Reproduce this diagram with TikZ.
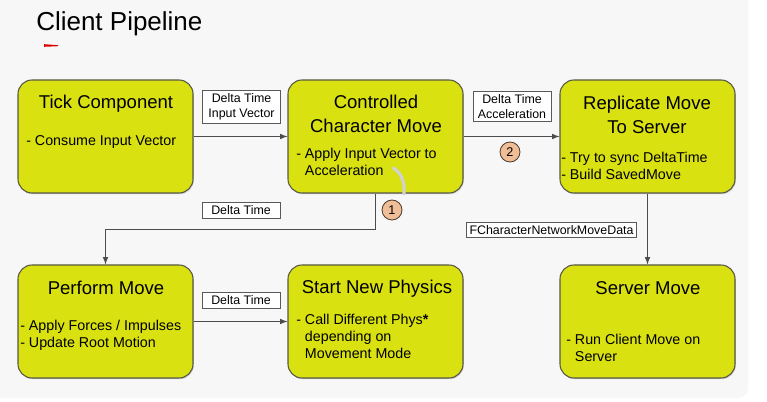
\documentclass[tikz,border=0pt]{standalone}
\usepackage{fontspec}
\setmainfont{Liberation Sans}
\usetikzlibrary{shadows}
\definecolor{boxfill}{RGB}{218,225,16}
\definecolor{boxline}{RGB}{88,88,70}
\definecolor{badge}{RGB}{240,190,150}
\begin{document}
\begin{tikzpicture}
[x=0.75pt, y=-0.75pt,
 stage/.style={draw=boxline, fill=boxfill, line width=0.8pt, rounded corners=10.5pt,
   minimum width=131.25pt, minimum height=84.75pt, inner sep=0pt,
   drop shadow={shadow xshift=0.6pt, shadow yshift=-0.9pt, opacity=.35}},
 head/.style={font=\fontsize{13.9}{17.5}\selectfont, align=center, inner sep=0pt},
 body/.style={font=\fontsize{10.7}{12.8}\selectfont, align=left, anchor=west, inner sep=0pt},
 tag/.style={draw=black!65, fill=white, line width=0.6pt, font=\fontsize{9.3}{11.2}\selectfont,
   align=center, inner sep=2.5pt, minimum width=58.5pt},
 badgenode/.style={circle, draw=black!70!badge, fill=badge, line width=0.6pt,
   minimum size=15pt, inner sep=0pt, font=\fontsize{9.5}{9.5}\selectfont},
 arr/.style={draw=black!70, line width=0.9pt, -latex}]

\useasboundingbox (0,0) rectangle (767,402);
\fill[white] (0,0) rectangle (767,402);
\fill[black!3, rounded corners=7.5pt] (-10,-10) rectangle (748,398);
%________________________________________________%
\node[anchor=west, inner sep=0pt, font=\fontsize{19.5}{22}\selectfont] (title) at (36,24) {Client Pipeline};
\fill[red!85!black] (44,44.2) -- (58,45.2) -- (58,46.2) -- (44,46.8) -- cycle;
%________________________________________________%
\node[stage] (tick) at (105.5,136.5) {};
\node[stage] (ccm) at (375.5,136.5) {};
\node[stage] (repl) at (647.5,136.5) {};
\node[stage] (perf) at (105.5,321.5) {};
\node[stage] (phys) at (375.5,321.5) {};
\node[stage] (serv) at (647.5,321.5) {};
%________________________________________________%
\node[head] (tickhead) at (106,104) {Tick Component};
\node[body] (tickbody) at (26,142) {- Consume Input Vector};
%________________________________________________%
\node[head] (ccmhead) at (376,114) {Controlled\\Character Move};
\node[body] (ccmbody) at (296,161.5) {- Apply Input Vector to\\\phantom{- }Acceleration};
%________________________________________________%
\node[head] (replhead) at (647,115) {Replicate Move\\To Server};
\node[body] (replbody) at (561,166) {- Try to sync DeltaTime\\- Build SavedMove};
%________________________________________________%
\node[head] (perfhead) at (106,288) {Perform Move};
\node[body] (perfbody) at (20,335.5) {- Apply Forces / Impulses\\- Update Root Motion};
%________________________________________________%
\node[head] (physhead) at (377,289) {Start New Physics};
\node[body] (physbody) at (296,336) {- Call Different Phys\textbf{*}\\\phantom{- }depending on\\\phantom{- }Movement Mode};
%________________________________________________%
\node[head] (servhead) at (648,288) {Server Move};
\node[body] (servbody) at (566,347.5) {- Run Client Move on\\\phantom{- }Server};
%________________________________________________%
\draw[arr] (tick) -- (ccm);
\draw[arr] (ccm) -- (repl);
\draw[arr] (ccm.south) -- ++(0,36) -| (perf.north);
\draw[arr] (perf) -- (phys);
\draw[arr] (repl) -- (serv);
%________________________________________________%
\node[tag] (tagA) at (241.5,107) {Delta Time\\Input Vector};
\node[tag] (tagB) at (512,106.5) {Delta Time\\Acceleration};
\node[tag] (tagC) at (241,210.5) {Delta Time};
\node[tag] (tagD) at (241,300.5) {Delta Time};
\node[tag] (tagE) at (551.5,230) {FCharacterNetworkMoveData};
%________________________________________________%
\draw[black!18, line width=2.4pt, line cap=round] (393,168) .. controls (401,172) and (405,182) .. (404,194);
\node[badgenode] (one) at (392,210) {1};
\node[badgenode] (two) at (510,152) {2};
\end{tikzpicture}
\end{document}
